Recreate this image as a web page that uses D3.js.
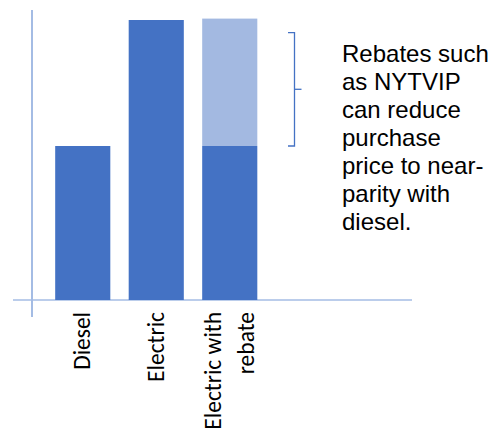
<!DOCTYPE html>
<html>
<head>
<meta charset="utf-8">
<script src="https://cdn.jsdelivr.net/npm/d3@7"></script>
<style>
  body { margin: 0; background: #fff; }
  svg { display: block; }
</style>
</head>
<body>
<div id="chart"></div>
<script>
// purchase price (relative units)
var categories = ["Diesel", "Electric", "Electric with rebate"];
var labelLines = [["Diesel"], ["Electric"], ["Electric with", "rebate"]];
var netPrice = [55, 100, 55];
var rebate = [0, 0, 45.5];
var bracketRange = [55, 95.5];
var note = ["Rebates such", "as NYTVIP", "can reduce", "purchase", "price to near-", "parity with", "diesel."];

var W = 494, H = 429;
var dark = "#4472c4", light = "#a3b9e1", axisCol = "#a4bce4";

var svg = d3.select("#chart").append("svg")
    .attr("width", W)
    .attr("height", H);

var x = d3.scaleBand()
    .domain(categories)
    .range([46, 266.5])
    .paddingInner(0.25)
    .paddingOuter(0.125);

var y = d3.scaleLinear()
    .domain([0, 100])
    .range([300, 20]);

// axes as plain lines
svg.append("line")
    .attr("x1", 32).attr("x2", 32)
    .attr("y1", 10).attr("y2", 317)
    .attr("stroke", axisCol).attr("stroke-width", 2);

svg.append("line")
    .attr("x1", 13).attr("x2", 412)
    .attr("y1", y(0)).attr("y2", y(0))
    .attr("stroke", axisCol).attr("stroke-width", 1.6);

// dark part
svg.selectAll(".net").data(categories)
    .enter().append("rect")
    .attr("class", "net")
    .attr("x", function(d){ return x(d) })
    .attr("width", x.bandwidth())
    .attr("y", function(d,i){ return y(netPrice[i]) })
    .attr("height", function(d,i){ return y(0) - y(netPrice[i]) })
    .attr("fill", dark);

// rebate part stacked on top
svg.selectAll(".reb").data(categories)
    .enter().append("rect")
    .attr("class", "reb")
    .attr("x", function(d){ return x(d) })
    .attr("width", x.bandwidth())
    .attr("y", function(d,i){ return y(netPrice[i] + rebate[i]) })
    .attr("height", function(d,i){ return y(netPrice[i]) - y(netPrice[i] + rebate[i]) })
    .attr("fill", light);

// category labels, rotated
var lab = svg.selectAll(".lab").data(categories)
    .enter().append("g")
    .attr("class", "lab")
    .attr("transform", function(d){ return "translate(" + (x(d) + x.bandwidth()/2) + ",312)" });

lab.each(function(d,i){
    var lines = labelLines[i];
    var g = d3.select(this);
    lines.forEach(function(t, j){
        var off = (j - (lines.length - 1)/2) * 33;
        g.append("text")
            .attr("transform", "translate(" + (off + 7.5) + ",0) rotate(-90)")
            .attr("text-anchor", "end")
            .attr("font-family", "Carlito, 'Liberation Sans', Arial, sans-serif")
            .attr("font-size", "23.5px")
            .attr("fill", "#000")
            .text(t);
    });
});

// bracket
var bx = 294.5;
var bp = d3.path();
bp.moveTo(bx - 6.5, y(bracketRange[1]));
bp.lineTo(bx, y(bracketRange[1]));
bp.lineTo(bx, y(bracketRange[0]));
bp.lineTo(bx - 6.5, y(bracketRange[0]));
svg.append("path")
    .attr("d", bp.toString())
    .attr("fill", "none")
    .attr("stroke", dark)
    .attr("stroke-width", 1.3);
var mid = (y(bracketRange[0]) + y(bracketRange[1])) / 2;
svg.append("line")
    .attr("x1", bx).attr("x2", bx + 7)
    .attr("y1", mid).attr("y2", mid)
    .attr("stroke", dark).attr("stroke-width", 1.3);

// note
svg.append("text")
    .attr("x", 342)
    .attr("y", 62)
    .attr("font-family", "'Liberation Sans', Arial, sans-serif")
    .attr("font-size", "24px")
    .attr("fill", "#000")
    .selectAll("tspan").data(note)
    .enter().append("tspan")
    .attr("x", 342)
    .attr("dy", function(d,i){ return i == 0 ? 0 : 28 })
    .text(function(d){ return d });
</script>
</body>
</html>
